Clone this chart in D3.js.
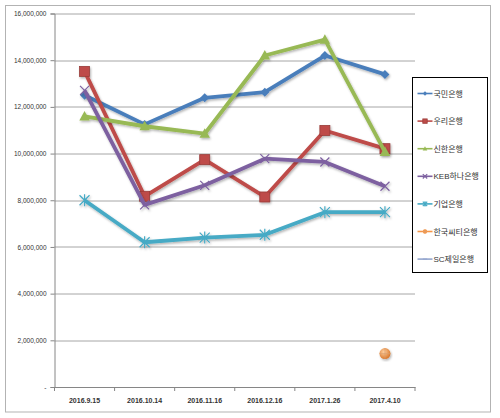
<!DOCTYPE html>
<html>
<head>
<meta charset="utf-8">
<script src="https://cdn.jsdelivr.net/npm/d3@7"></script>
<style>
  body { margin: 0; background: #fff; }
  text { font-family: "Liberation Sans", "Noto Sans CJK KR", sans-serif; }
</style>
</head>
<body>
<svg id="chart"></svg>
<script>
const dates = ["2016.9.15", "2016.10.14", "2016.11.16", "2016.12.16", "2017.1.26", "2017.4.10"];
const banks = ["국민은행", "우리은행", "신한은행", "KEB하나은행", "기업은행", "한국씨티은행", "SC제일은행"];
const kookmin = [12500000, 11250000, 12390000, 12630000, 14200000, 13390000];
const woori = [13520000, 8170000, 9740000, 8140000, 10990000, 10210000];
const shinhan = [11590000, 11170000, 10850000, 14200000, 14880000, 10070000];
const keb = [12710000, 7800000, 8640000, 9780000, 9640000, 8600000];
const ibk = [8000000, 6200000, 6400000, 6520000, 7490000, 7490000];
const citi = [null, null, null, null, null, 1430000];
const sc = [null, null, null, null, null, null];
const yTicks = [0, 2000000, 4000000, 6000000, 8000000, 10000000, 12000000, 14000000, 16000000];

const seriesValues = [kookmin, woori, shinhan, keb, ibk, citi, sc];
const colors = ["#4a7ebb", "#be4b48", "#98b954", "#7d60a0", "#46aac5", "#f79646", "#95a7cf"];
const markers = ["diamond", "square", "triangle", "x", "asterisk", "circle", "dash"];

const W = 500, H = 418;
const margin = { top: 13.5, right: 85, bottom: 31, left: 54.5 };
const width = W - margin.left - margin.right;
const height = H - margin.top - margin.bottom;

const root = d3.select("#chart").attr("width", W).attr("height", H);

// drop shadow like the spreadsheet style
const defs = root.append("defs");
const f = defs.append("filter").attr("id", "shadow").attr("x", "-20%").attr("y", "-20%").attr("width", "140%").attr("height", "140%");
f.append("feDropShadow").attr("dx", 1).attr("dy", 1.5).attr("stdDeviation", 1).attr("flood-color", "#000").attr("flood-opacity", 0.3);
const rg = defs.append("radialGradient").attr("id", "ball").attr("cx", "40%").attr("cy", "35%").attr("r", "65%");
rg.append("stop").attr("offset", "0%").attr("stop-color", "#ffd0a0");
rg.append("stop").attr("offset", "100%").attr("stop-color", "#d9772a");

root.append("rect")
  .attr("x", 5.5).attr("y", 5.5).attr("width", 485).attr("height", 406.5)
  .attr("fill", "#fff").attr("stroke", "#b3b3b3").attr("stroke-width", 1);

const svg = root.append("g").attr("transform", `translate(${margin.left},${margin.top})`);

const x = d3.scaleBand().domain(dates).range([0, width]);
const y = d3.scaleLinear().domain([0, 16000000]).range([height, 0]);

// gridlines
svg.append("g")
  .selectAll("line")
  .data(yTicks.slice(1))
  .join("line")
  .attr("x1", 0).attr("x2", width)
  .attr("y1", d => Math.round(y(d)) + 0.5).attr("y2", d => Math.round(y(d)) + 0.5)
  .attr("stroke", "#a6a6a6").attr("stroke-width", 1);

const fmt = d3.format(",");
const yAxis = svg.append("g")
  .call(d3.axisLeft(y).tickValues(yTicks).tickSize(4).tickFormat(d => d === 0 ? "-" : fmt(d)));
yAxis.select(".domain").attr("stroke", "#868686");
yAxis.selectAll(".tick line").attr("stroke", "#868686");
yAxis.selectAll(".tick text").attr("font-size", 6.5).attr("fill", "#333").attr("x", -8);

const xAxis = svg.append("g")
  .attr("transform", `translate(0,${height})`)
  .call(d3.axisBottom(x).tickSize(0));
xAxis.select(".domain").attr("stroke", "#868686");
xAxis.selectAll(".tick text").attr("font-size", 7).attr("font-weight", "bold").attr("fill", "#333").attr("dy", 13);
// tick marks at category boundaries
xAxis.append("g")
  .selectAll("line")
  .data(dates.map(d => x(d)).concat([width]))
  .join("line")
  .attr("x1", d => d).attr("x2", d => d).attr("y1", 0).attr("y2", 4)
  .attr("stroke", "#868686");

const cx = d => x(d) + x.bandwidth() / 2;

function drawMarker(g, type, color, s) {
  if (type === "diamond") {
    g.append("path").attr("d", `M0,${-s}L${s},0L0,${s}L${-s},0Z`).attr("fill", color);
  } else if (type === "square") {
    g.append("rect").attr("x", -s).attr("y", -s).attr("width", 2 * s).attr("height", 2 * s)
      .attr("fill", color).attr("stroke", d3.color(color).darker(0.6)).attr("stroke-width", 0.8);
  } else if (type === "triangle") {
    g.append("path").attr("d", `M0,${-s * 1.1}L${s * 1.05},${s * 0.8}L${-s * 1.05},${s * 0.8}Z`).attr("fill", color);
  } else if (type === "x") {
    g.append("path").attr("d", `M${-s},${-s}L${s},${s}M${-s},${s}L${s},${-s}`)
      .attr("stroke", color).attr("stroke-width", 1.2).attr("fill", "none");
  } else if (type === "asterisk") {
    g.append("path").attr("d", `M${-s},${-s}L${s},${s}M${-s},${s}L${s},${-s}M0,${-s * 1.2}L0,${s * 1.2}`)
      .attr("stroke", color).attr("stroke-width", 1.2).attr("fill", "none");
  } else if (type === "circle") {
    g.append("circle").attr("r", s).attr("fill", s > 3 ? "url(#ball)" : color);
    g.append("path").attr("d", `M${-s},0L${s},0M0,${-s}L0,${s}`).attr("stroke", "#d9a070").attr("stroke-width", 0.6);
  } else if (type === "dash") {
    g.append("path").attr("d", `M${-s},0L${s},0`).attr("stroke", color).attr("stroke-width", 1.2);
  }
}

const line = d3.line()
  .defined(d => d.v != null)
  .x(d => cx(d.date))
  .y(d => y(d.v));

const sizes = [4.5, 5, 5, 4.5, 5, 5.5, 4];

banks.forEach((b, i) => {
  const pts = dates.map((d, j) => ({ date: d, v: seriesValues[i][j] }));
  const g = svg.append("g").attr("filter", "url(#shadow)");
  g.append("path")
    .datum(pts)
    .attr("d", line)
    .attr("fill", "none")
    .attr("stroke", colors[i])
    .attr("stroke-width", 3.8)
    .attr("stroke-linejoin", "round");
  pts.filter(p => p.v != null).forEach(p => {
    const m = g.append("g").attr("transform", `translate(${cx(p.date)},${y(p.v)})`);
    drawMarker(m, markers[i], colors[i], sizes[i]);
  });
});

// legend
const lg = root.append("g").attr("transform", "translate(412.5,77.5)");
lg.append("rect").attr("width", 75).attr("height", 195).attr("fill", "#fff").attr("stroke", "#000").attr("stroke-width", 1);
banks.forEach((b, i) => {
  const row = lg.append("g").attr("transform", `translate(0,${16 + i * 27.6})`);
  row.append("line").attr("x1", 5).attr("x2", 20).attr("y1", 0).attr("y2", 0)
    .attr("stroke", colors[i]).attr("stroke-width", 1.6);
  const m = row.append("g").attr("transform", "translate(12.5,0)");
  drawMarker(m, markers[i], colors[i], 2.2);
  row.append("text").attr("x", 21).attr("y", 3).attr("font-size", 8).attr("fill", "#333").text(b);
});
</script>
</body>
</html>
